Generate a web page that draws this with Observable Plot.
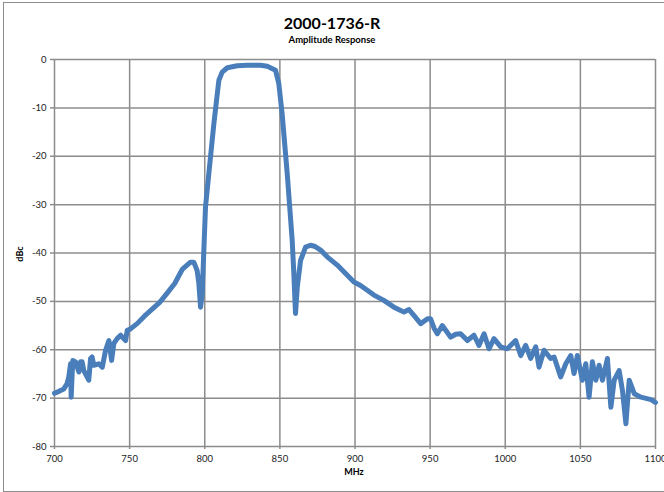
<!DOCTYPE html>
<html>
<head>
<meta charset="utf-8">
<script src="https://cdn.jsdelivr.net/npm/d3@7"></script>
<script src="https://cdn.jsdelivr.net/npm/@observablehq/plot@0.6"></script>
<style>
  body { margin: 0; background: #fff; }
  #wrap { position: relative; width: 664px; height: 492px; overflow: hidden; background: #fff; font-family: Lato, "Open Sans", sans-serif; }
  #frame { position: absolute; left: 3px; top: 2px; width: 700px; height: 488px; border-left: 1.5px solid #8c8c8c; border-top: 1.5px solid #8c8c8c; border-bottom: 1.5px solid #8c8c8c; }
  #title { position: absolute; left: 0; width: 664px; top: 13px; text-align: center; font-weight: bold; font-size: 16px; color: #000; }
  #subtitle { position: absolute; left: 0; width: 664px; top: 34px; text-align: center; font-weight: bold; font-size: 9.5px; color: #000; }
  #chart { position: absolute; left: 0; top: 0; }
  #xlabel { position: absolute; left: 334px; width: 40px; top: 466px; text-align: center; font-weight: bold; font-size: 9px; }
  #ylabel { position: absolute; left: 0px; top: 248px; width: 40px; text-align: center; font-weight: bold; font-size: 9px; transform-origin: 20px 6px; transform: rotate(-90deg); }
</style>
</head>
<body>
<div id="wrap">
  <div id="frame"></div>
  <div id="chart"></div>
  <div id="title"></div>
  <div id="subtitle"></div>
  <div id="xlabel"></div>
  <div id="ylabel"></div>
</div>
<script>
const titleText = "2000-1736-R";
const subtitleText = "Amplitude Response";
const xLabel = "MHz";
const yLabel = "dBc";
const xTicks = [700, 750, 800, 850, 900, 950, 1000, 1050, 1100];
const yTicks = [0, -10, -20, -30, -40, -50, -60, -70, -80];

const freqMHz = [
  700, 703, 706.2, 708.4, 709.5, 710.7, 711.1, 711.6, 712.2, 714,
  716.2, 717.3, 718.4, 719.5, 722.8, 724, 725, 726.2, 729.5, 731.8,
  734, 736.2, 738, 739.5, 741.7, 744, 747.3, 748.4, 750, 755,
  760, 765, 770, 775, 780, 785, 790.5, 792.7, 794.9, 796,
  797.2, 798.3, 800.5, 802.7, 806.1, 809.4, 811.6, 815, 821.6, 828.3,
  837.1, 841.6, 847.1, 849.3, 851.5, 854.9, 858.2, 859.3, 860.4, 861.6,
  863.8, 867.1, 870.4, 873, 877.1, 881.5, 888.2, 894.9, 899.3, 903.7,
  908.2, 912.6, 919.2, 925.9, 930.4, 932.6, 935.9, 939.2, 943.7, 948.3,
  950.3, 952.7, 954.8, 958.1, 963.7, 967, 970.3, 974.8, 979.2, 982.5,
  985.9, 989.2, 992.5, 997, 1001.4, 1006.9, 1010.3, 1013.6, 1016.9, 1020.3,
  1022.5, 1025.8, 1030.2, 1032.5, 1036.9, 1040.3, 1043.6, 1045.8, 1048, 1051.3,
  1053.6, 1055.8, 1058, 1060.3, 1062.5, 1064.7, 1068, 1070.3, 1072.5, 1075.8,
  1078, 1080.3, 1082.5, 1085.9, 1090.3, 1097, 1100
];
const ampDBc = [
  -69, -68.6, -68.1, -67.0, -65.6, -62.9, -69.8, -66, -62.2, -62.5,
  -64.6, -62.5, -62.5, -64.3, -66.3, -61.8, -61.5, -63.2, -62.9, -63.6,
  -60.1, -58.1, -62.2, -58.7, -57.7, -57, -58.1, -56, -55.8, -54.6,
  -53, -51.6, -50.2, -48.3, -46.3, -43.4, -41.9, -41.9, -43.6, -46,
  -51.2, -48.4, -30.5, -23.6, -13.2, -4.3, -2.6, -1.7, -1.3, -1.2,
  -1.2, -1.4, -2.2, -5, -11.2, -23.6, -37.4, -44.3, -52.5, -47,
  -41.5, -38.8, -38.4, -38.6, -39.4, -40.8, -42.5, -44.6, -46, -46.7,
  -47.7, -48.7, -49.8, -51.2, -51.9, -52.2, -51.7, -52.9, -54.6, -53.6,
  -53.6, -55.6, -56.7, -55, -57.4, -56.8, -56.7, -58.1, -57, -59.1,
  -56.7, -59.8, -57.7, -59.4, -59.8, -58.1, -61.2, -59.1, -61.8, -59.4,
  -63.6, -60.1, -61.8, -61.5, -65.6, -62.9, -61.2, -64.9, -61.2, -66.3,
  -62.9, -69.8, -62.5, -66.3, -63.2, -66.3, -61.8, -71.9, -66.3, -64.3,
  -68.4, -75.3, -66.3, -69.1, -69.8, -70.3, -70.9
];

const data = freqMHz.map((f, i) => ({f, a: ampDBc[i]}));

document.getElementById("title").textContent = titleText;
document.getElementById("subtitle").textContent = subtitleText;
document.getElementById("xlabel").textContent = xLabel;
document.getElementById("ylabel").textContent = yLabel;

const grid = "#8c8c8c";
const chart = Plot.plot({
  width: 664,
  height: 492,
  marginLeft: 54,
  marginRight: 9,
  marginTop: 59,
  marginBottom: 46,
  style: {background: "transparent", fontFamily: "Lato, 'Open Sans', sans-serif", fontSize: "9.5px", color: "#222"},
  x: {domain: [700, 1100], ticks: xTicks, label: null},
  y: {domain: [-80, 0], ticks: yTicks, label: null},
  marks: [
    Plot.gridX(xTicks, {stroke: grid, strokeOpacity: 1, strokeWidth: 1.5}),
    Plot.gridY(yTicks, {stroke: grid, strokeOpacity: 1, strokeWidth: 1.5}),
    Plot.axisX(xTicks, {tickSize: 3, tickPadding: 6, stroke: grid, strokeWidth: 1.5, fill: "#222", tickFormat: d => String(d)}),
    Plot.axisY(yTicks, {tickSize: 4, tickPadding: 4, stroke: grid, strokeWidth: 1.5, fill: "#222", tickFormat: d => String(d)}),
    Plot.line(data, {x: "f", y: "a", stroke: "#4a7ebb", strokeWidth: 5, strokeLinejoin: "round", strokeLinecap: "round"})
  ]
});
document.getElementById("chart").appendChild(chart);
</script>
</body>
</html>
